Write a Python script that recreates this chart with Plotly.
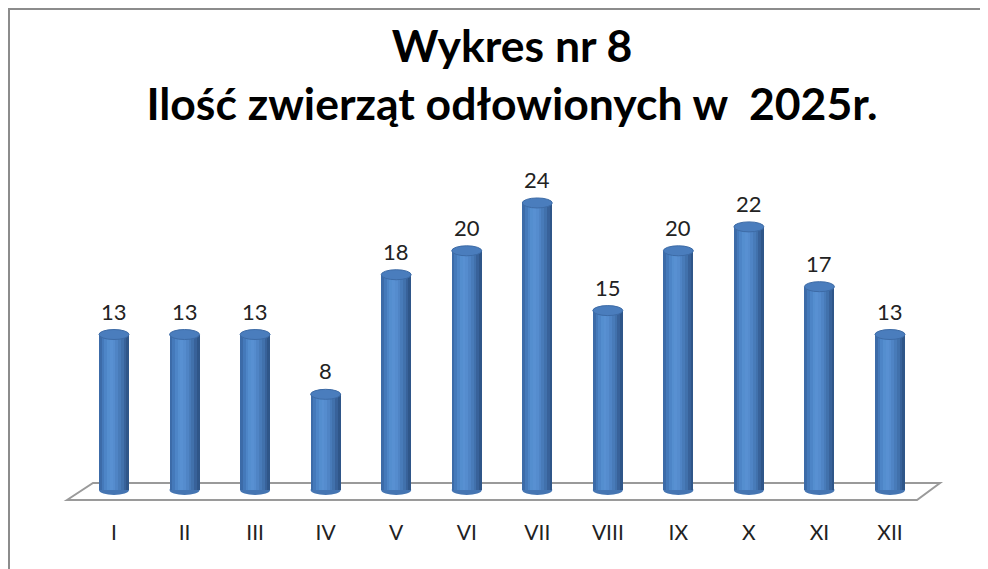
import plotly.graph_objects as go

months = ["I", "II", "III", "IV", "V", "VI", "VII", "VIII", "IX", "X", "XI", "XII"]
counts = [13, 13, 13, 8, 18, 20, 24, 15, 20, 22, 17, 13]
title_lines = ["Wykres nr 8", "Ilość zwierząt odłowionych w  2025r."]

OFF = 8  # page body margin
W, H = 988 - OFF, 569 - OFF
# plot area in screen pixels: x 60..950, y 140..510
L, R, T, B = 60 - OFF, 988 - 950, 140 - OFF, 569 - 510
pw, ph = W - L - R, H - T - B
px_per_x = 70.545
x0 = -(114 - 60) / px_per_x
x1 = x0 + pw / px_per_x
px_per_y = 11.96
y0 = -(510 - 490) / px_per_y
y1 = y0 + ph / px_per_y

bw = 0.425
dy = 5.0 / px_per_y
strip_cols = ["#3C6BA8", "#4479BA", "#4D85C7", "#548ECF", "#5890D2",
              "#558CCE", "#4F84C5", "#487BB9", "#4171AC", "#38629A", "#2F5689"]
n = len(strip_cols)
xs = list(range(len(months)))

fig = go.Figure()
for k, c in enumerate(strip_cols):
    left = -bw / 2 + k * bw / n
    fig.add_trace(go.Bar(
        x=xs, y=counts, width=bw / 2 - left, offset=left,
        marker=dict(color=c, line=dict(width=0)),
        hoverinfo="skip", showlegend=False))

shapes = []
fx = lambda p: (p - 60) / px_per_x + x0
fy = lambda p: (490 - p) / px_per_y
shapes.append(dict(type="path", xref="x", yref="y",
                   path=f"M {fx(67)},{fy(500)} L {fx(93)},{fy(483)} L {fx(940)},{fy(483)} L {fx(917)},{fy(500)} Z",
                   line=dict(color="#9a9a9a", width=2), fillcolor="white", layer="below"))
for i, v in zip(xs, counts):
    shapes.append(dict(type="circle", xref="x", yref="y", x0=i - bw / 2, x1=i + bw / 2,
                       y0=-dy, y1=dy, fillcolor="#4575B2", line=dict(width=0), layer="below"))
    shapes.append(dict(type="circle", xref="x", yref="y", x0=i - bw / 2, x1=i + bw / 2,
                       y0=v - dy, y1=v + dy, fillcolor="#4A7DBD",
                       line=dict(color="#3D6BA6", width=1), layer="above"))
# outer border (top and left), as close to the page corner as the figure allows
shapes.append(dict(type="rect", xref="paper", yref="paper",
                   x0=(9 - 60) / pw, x1=(1010 - 60) / pw,
                   y0=(510 - 600) / ph, y1=(510 - 9) / ph,
                   line=dict(color="#8c8c8c", width=2), fillcolor="rgba(0,0,0,0)"))

annotations = []
for i, v in zip(xs, counts):
    annotations.append(dict(x=i, y=v, xref="x", yref="y", text=str(v), showarrow=False,
                            yanchor="bottom", yshift=8,
                            font=dict(family="Lato", size=22, color="#222222")))

fig.update_layout(
    width=W, height=H, margin=dict(l=L, r=R, t=T, b=B),
    paper_bgcolor="white", plot_bgcolor="white",
    barmode="overlay", bargap=0,
    title=dict(text="<br>".join(title_lines), x=(512 - OFF) / W, xanchor="center",
               y=1 - (62 - OFF) / H, yanchor="middle",
               font=dict(family="Lato", size=44.5, color="#000000", weight="bold")),
    xaxis=dict(range=[x0, x1], tickvals=xs, ticktext=months, showgrid=False, zeroline=False,
               showline=False, ticks="", ticklabelstandoff=8,
               tickfont=dict(family="Lato", size=21, color="#222222")),
    yaxis=dict(range=[y0, y1], showgrid=False, zeroline=False, showline=False,
               showticklabels=False, ticks=""),
    shapes=shapes, annotations=annotations,
)
fig.write_html("out.html")
